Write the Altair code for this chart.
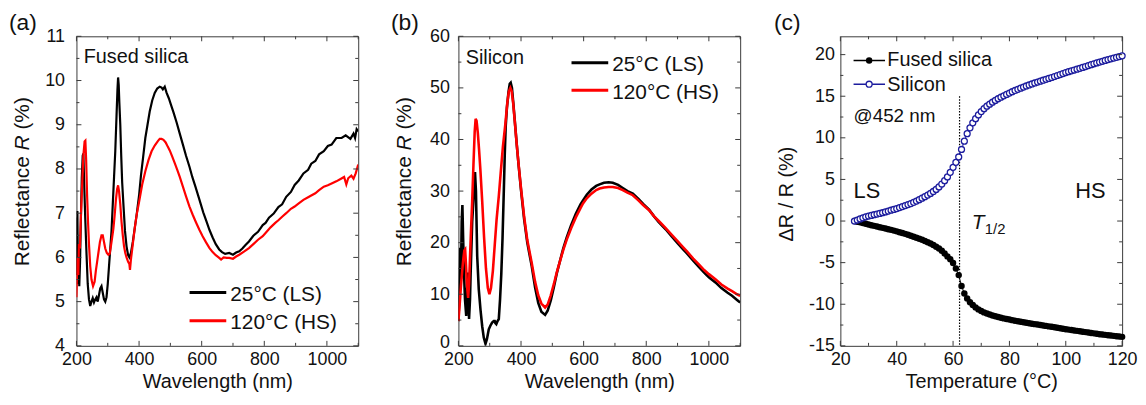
import altair as alt
import pandas as pd

FONT = "Liberation Sans"
INK = "#111111"
FRAME = "#3a3a3a"
RED = "#ff0000"
BLUE = "#1c1c9e"
W, H = 284, 312
WC = 284

# ---------------- (a) fused silica spectra: [wavelength nm, reflectance %] ----------------
fused_25C = [
    [200, 6.9], [201.5, 5.6], [203, 7.05], [205, 5.4], [207, 6.3], [209, 5.35], [211.5, 5.9], [214, 6.8],
    [217, 7.8], [220, 8.3], [222, 8.35], [225, 7.6], [228, 6.9], [232, 6.1], [236, 5.4], [240, 5.05],
    [244, 4.9], [248, 5.0], [252, 5.08], [256, 4.98], [260, 5.05], [264, 5.1], [268, 5.0], [272, 5.15],
    [276, 5.3], [280, 5.35], [284, 5.2], [288, 5.05], [292, 5.0], [296, 5.1], [300, 5.4], [304, 5.8],
    [308, 6.2], [312, 6.6], [316, 7.2], [320, 7.8], [324, 8.4], [328, 9.2], [331, 9.8], [333, 10.07],
    [335, 9.9], [337, 9.5], [340, 9.0], [343, 8.3], [346, 7.7], [350, 7.2], [355, 6.6], [360, 6.25],
    [365, 6.05], [369, 6.0], [374, 6.1], [380, 6.35], [386, 6.65], [392, 6.95], [400, 7.4], [406, 7.85],
    [413, 8.27], [420, 8.7], [427, 9.0], [434, 9.3], [442, 9.55], [450, 9.72], [458, 9.82], [466, 9.86],
    [472, 9.84], [476, 9.8], [482, 9.86], [488, 9.72], [495, 9.6], [502, 9.45], [510, 9.28], [520, 9.05],
    [530, 8.8], [540, 8.55], [550, 8.3], [561, 8.05], [570, 7.82], [580, 7.6], [593, 7.3], [605, 7.02],
    [615, 6.82], [625, 6.62], [635, 6.45], [645, 6.3], [656, 6.18], [665, 6.12], [675, 6.08], [688, 6.1],
    [700, 6.06], [710, 6.11], [720, 6.14], [730, 6.2], [740, 6.28], [751, 6.36], [765, 6.49], [780, 6.58],
    [795, 6.73], [804, 6.78], [815, 6.9], [830, 6.99], [845, 7.14], [857, 7.2], [870, 7.37], [885, 7.48],
    [897, 7.64], [910, 7.74], [925, 7.9], [940, 7.98], [950, 8.12], [963, 8.18], [975, 8.33], [990, 8.4],
    [1003, 8.52], [1015, 8.55], [1030, 8.7], [1047, 8.7], [1060, 8.76], [1075, 8.68], [1085, 8.8],
    [1090, 8.7], [1095, 8.9], [1100, 8.85],
]
fused_120C = [
    [200, 5.1], [203, 6.0], [206, 5.6], [208, 6.3], [211, 6.2], [214, 6.9], [218, 7.6], [222, 8.3],
    [226, 8.62], [228.5, 8.64], [231, 8.2], [234, 7.4], [237, 6.8], [240, 6.3], [244, 5.8], [248, 5.5],
    [253, 5.35], [258, 5.45], [262, 5.7], [266, 5.9], [270, 6.1], [275, 6.35], [280, 6.5], [284, 6.5],
    [288, 6.35], [292, 6.2], [297, 6.1], [302, 6.06], [306, 6.08], [310, 6.25], [314, 6.45], [318, 6.65],
    [322, 6.95], [326, 7.3], [330, 7.55], [333, 7.63], [336, 7.5], [340, 7.2], [344, 6.8], [348, 6.5],
    [352, 6.25], [356, 6.1], [360, 6.0], [365, 5.9], [369, 5.85], [371, 5.72], [374, 5.95], [380, 6.3],
    [386, 6.65], [392, 6.95], [400, 7.25], [410, 7.65], [420, 7.95], [430, 8.2], [440, 8.4], [450, 8.53],
    [460, 8.63], [466, 8.68], [472, 8.68], [478, 8.66], [485, 8.6], [492, 8.5], [498, 8.42], [506, 8.28],
    [514, 8.13], [522, 7.98], [530, 7.82], [540, 7.6], [550, 7.38], [561, 7.15], [571, 6.97], [582, 6.79],
    [593, 6.62], [603, 6.48], [614, 6.34], [625, 6.21], [635, 6.12], [645, 6.05], [656, 5.99], [662, 5.95],
    [670, 6.0], [680, 5.99], [688, 5.99], [700, 5.97], [710, 6.02], [720, 6.06], [735, 6.13], [751, 6.21],
    [765, 6.3], [780, 6.4], [795, 6.48], [804, 6.55], [820, 6.68], [835, 6.78], [845, 6.84], [857, 6.92],
    [870, 7.0], [885, 7.1], [897, 7.15], [910, 7.22], [925, 7.3], [940, 7.36], [950, 7.4], [963, 7.45],
    [975, 7.52], [990, 7.6], [1003, 7.63], [1015, 7.67], [1030, 7.72], [1045, 7.78], [1055, 7.82],
    [1062, 7.65], [1068, 7.79], [1078, 7.85], [1085, 7.78], [1092, 7.9], [1100, 8.1],
]

# ---------------- (b) silicon spectra ----------------
silicon_25C = [
    [200, 4.8], [203, 10], [206, 19], [208, 13], [210.5, 24], [212.7, 27.3], [215, 21], [218, 14],
    [221, 9], [225, 5.8], [228, 11], [230.7, 14.2], [234, 5.2], [237, 9], [239, 14], [244, 24],
    [249.6, 30], [253, 33.7], [256, 30], [260, 17.4], [265, 11], [270.7, 6.9], [276, 3.8], [281, 1.6],
    [286.5, 0.4], [291, 1.3], [297, 3.2], [302, 3.9], [307.7, 4.5], [313, 4.8], [316, 4.8], [318, 4.4],
    [321, 4.2], [325, 4.8], [329, 5.2], [333, 9], [337, 14], [341, 21], [345, 30], [348, 37],
    [351, 42.5], [355, 46.2], [360, 49.2], [364, 50.8], [367, 51], [371, 50], [375, 47.3], [380, 43.7],
    [386, 39.3], [392, 35.2], [400, 30.2], [410, 24.5], [420, 20], [434, 15.5], [445, 11.3], [455, 8.3],
    [465, 6.6], [477, 6.0], [485, 6.8], [495, 8.8], [505, 11.4], [514, 14.0], [525, 16.6], [535, 18.9],
    [546, 21.0], [560, 23.4], [575, 25.6], [590, 27.4], [598, 28.2], [610, 29.3], [625, 30.3], [640, 31.0],
    [651, 31.3], [665, 31.6], [680, 31.7], [693, 31.6], [710, 31.2], [725, 30.6], [740, 30.0], [757, 29.5],
    [775, 28.5], [790, 27.5], [809, 26.4], [825, 25.1], [840, 24.0], [862, 22.6], [880, 21.3], [900, 19.9],
    [915, 18.9], [930, 17.9], [950, 16.5], [968, 15.3], [985, 14.2], [1000, 13.3], [1021, 12.3],
    [1040, 11.2], [1060, 10.3], [1074, 9.7], [1090, 8.9], [1100, 8.4],
]
silicon_120C = [
    [200, 4.8], [204, 8], [208, 11.5], [212, 14.5], [216, 17], [219, 18.5], [221.5, 18.7], [224, 16],
    [227, 12], [231, 9.3], [234, 12], [237, 17], [240, 22], [244, 28], [248, 35], [252, 41.5],
    [255, 44], [258, 43.6], [262, 41.3], [266, 38], [270, 34.3], [276, 28], [282, 21], [288, 15],
    [294, 11.2], [299, 10.0], [304, 11.2], [310, 14.5], [316, 19.5], [322, 24.5], [329, 29], [335, 33.5],
    [342, 38.5], [350, 43], [356, 47], [361, 49.3], [366, 50], [370, 49.4], [375, 47], [380, 43.5],
    [386, 39.2], [392, 35.3], [400, 30.5], [410, 25], [420, 20.5], [434, 16.1], [445, 12.4], [455, 9.8],
    [465, 8.2], [477, 7.44], [485, 8.0], [495, 9.8], [505, 12], [514, 14.2], [525, 16.5], [535, 18.6],
    [546, 20.6], [560, 22.8], [575, 24.9], [590, 26.7], [598, 27.6], [610, 28.6], [625, 29.5], [640, 30.2],
    [651, 30.5], [665, 30.7], [680, 30.8], [693, 30.8], [710, 30.6], [725, 30.2], [740, 29.7], [757, 29.2],
    [775, 28.2], [790, 27.3], [809, 26.3], [825, 25.1], [840, 24.2], [862, 22.8], [880, 21.6], [900, 20.3],
    [915, 19.3], [930, 18.3], [950, 16.9], [968, 15.8], [985, 14.7], [1000, 13.9], [1021, 12.9],
    [1040, 11.9], [1060, 11.1], [1074, 10.6], [1090, 10.0], [1100, 9.7],
]

# ---------------- (c) relative change at 452 nm vs temperature ----------------
c_temp = [25, 26, 27, 28, 29, 30, 31, 32, 33, 34, 35, 36, 37, 38, 39, 40, 41, 42, 43, 44,
          45, 46, 47, 48, 49, 50, 51, 52, 53, 54, 55, 56, 57, 58, 59, 60, 61, 62, 63, 64,
          65, 66, 67, 68, 69, 70, 71, 72, 73, 74, 75, 76, 77, 78, 79, 80, 81, 82, 83, 84,
          85, 86, 87, 88, 89, 90, 91, 92, 93, 94, 95, 96, 97, 98, 99, 100, 101, 102, 103, 104,
          105, 106, 107, 108, 109, 110, 111, 112, 113, 114, 115, 116, 117, 118, 119, 120]
c_fused = [0.00, -0.08, -0.16, -0.25, -0.33, -0.42, -0.50, -0.58, -0.66, -0.74,
           -0.82, -0.90, -0.98, -1.06, -1.15, -1.24, -1.34, -1.44, -1.54, -1.65,
           -1.76, -1.88, -2.00, -2.12, -2.25, -2.39, -2.54, -2.70, -2.88, -3.08,
           -3.30, -3.58, -3.90, -4.25, -4.60, -5.05, -5.70, -6.50, -7.80, -8.70,
           -9.30, -9.75, -10.10, -10.38, -10.62, -10.82, -10.98, -11.12, -11.24, -11.35,
           -11.45, -11.54, -11.62, -11.70, -11.77, -11.84, -11.91, -11.98, -12.04, -12.10,
           -12.16, -12.22, -12.28, -12.34, -12.39, -12.44, -12.50, -12.55, -12.60, -12.66,
           -12.71, -12.77, -12.82, -12.88, -12.94, -13.00, -13.05, -13.10, -13.15, -13.20,
           -13.25, -13.30, -13.35, -13.40, -13.45, -13.50, -13.55, -13.60, -13.64, -13.68,
           -13.72, -13.76, -13.80, -13.84, -13.88, -13.92]
c_silicon = [0.00, 0.12, 0.25, 0.38, 0.50, 0.60, 0.68, 0.76, 0.84, 0.92,
             1.00, 1.10, 1.20, 1.30, 1.40, 1.50, 1.62, 1.74, 1.86, 1.98,
             2.10, 2.25, 2.40, 2.57, 2.75, 2.93, 3.12, 3.32, 3.55, 3.80,
             4.10, 4.45, 4.85, 5.30, 5.85, 6.45, 7.05, 7.70, 8.60, 9.60,
             10.50, 11.20, 11.80, 12.30, 12.75, 13.15, 13.50, 13.80, 14.05, 14.28,
             14.50, 14.70, 14.88, 15.05, 15.22, 15.38, 15.54, 15.69, 15.83, 15.97,
             16.10, 16.23, 16.35, 16.47, 16.59, 16.70, 16.81, 16.92, 17.03, 17.14,
             17.25, 17.37, 17.49, 17.61, 17.73, 17.85, 17.95, 18.05, 18.15, 18.25,
             18.35, 18.46, 18.57, 18.68, 18.79, 18.90, 19.00, 19.10, 19.20, 19.30,
             19.40, 19.49, 19.58, 19.67, 19.76, 19.85]
t_half = [62.3]
t_half_span = [15, -15]

# tick values
a_xmaj = [200, 400, 600, 800, 1000]
a_xmin = [300, 500, 700, 900, 1100]
a_ymaj = [4, 5, 6, 7, 8, 9, 10, 11]
a_ymin = [4.5, 5.5, 6.5, 7.5, 8.5, 9.5, 10.5]
b_ymaj = [0, 10, 20, 30, 40, 50, 60]
b_ymin = [5, 15, 25, 35, 45, 55]
c_xmaj = [20, 40, 60, 80, 100, 120]
c_xmin = [30, 50, 70, 90, 110]
c_ymaj = [-15, -10, -5, 0, 5, 10, 15, 20]
c_ymin = [-12.5, -7.5, -2.5, 2.5, 7.5, 12.5, 17.5]

XTITLE_Y = 42  # baseline of the x-axis titles below the plot area

AX = dict(ticks=False, domain=False, grid=False, labelFont=FONT, labelFontSize=18,
          labelColor=INK, labelFlush=False, labelOverlap=False, titleFont=FONT,
          titleFontSize=20, titleFontWeight="normal", titleColor=INK,
          labelExpr="'' + datum.value")


def spec_df(pairs):
    return pd.DataFrame(pairs, columns=["wl", "R"])


def text_layer(s, x, y, size, align="left", style="normal", angle=0, color=INK):
    return alt.Chart(pd.DataFrame({"t": [s]})).mark_text(
        align=align, baseline="alphabetic", fontSize=size, font=FONT, fontStyle=style,
        angle=angle, color=color
    ).encode(text="t:N", x=alt.value(x), y=alt.value(y))


def hline(x1, x2, y, color, width):
    return alt.Chart(pd.DataFrame({"k": [0]})).mark_rule(color=color, strokeWidth=width).encode(
        x=alt.value(x1), x2=alt.value(x2), y=alt.value(y))


def frame_ticks(xs, ys, xax, yax, xmaj, xmin, ymaj, ymin, w, h):
    # inward ticks on all four sides, sharing the same scales and axis definitions
    out = []
    for vals, L in ((xmaj, 5), (xmin, 3)):
        d = pd.DataFrame({"v": vals})
        out.append(alt.Chart(d).mark_rule(color=FRAME, strokeWidth=1).encode(
            x=alt.X("v:Q", scale=xs, axis=xax), y=alt.value(h), y2=alt.value(h - L)))
        out.append(alt.Chart(d).mark_rule(color=FRAME, strokeWidth=1).encode(
            x=alt.X("v:Q", scale=xs, axis=xax), y=alt.value(0), y2=alt.value(L)))
    for vals, L in ((ymaj, 5), (ymin, 3)):
        d = pd.DataFrame({"v": vals})
        out.append(alt.Chart(d).mark_rule(color=FRAME, strokeWidth=1).encode(
            y=alt.Y("v:Q", scale=ys, axis=yax), x=alt.value(0), x2=alt.value(L)))
        out.append(alt.Chart(d).mark_rule(color=FRAME, strokeWidth=1).encode(
            y=alt.Y("v:Q", scale=ys, axis=yax), x=alt.value(w), x2=alt.value(w - L)))
    return out


def reflectance_title():
    return [
        text_layer("Reflectance", -48, 231.7, 21, angle=270),
        text_layer("R", -48, 115, 21, style="italic", angle=270),
        text_layer("(%)", -48, 94, 21, angle=270),
    ]


def spectra_panel(ls, hs, ydom, ymaj, ymin, ylabpad, lw, label, label_text, legend_y, letter,
                  zero_lift=0):
    xs = alt.Scale(domain=[200, 1100], nice=False, zero=False)
    ys = alt.Scale(domain=ydom, nice=False, zero=False)
    xax = alt.Axis(values=a_xmaj, title="Wavelength (nm)", labelPadding=5, titleY=XTITLE_Y,
                   titleBaseline="alphabetic", **AX)
    yax = alt.Axis(values=ymaj, title=None, labelPadding=ylabpad,
                   labelOffset={"condition": {"test": "datum.value == 0", "value": -zero_lift},
                                "value": 0},
                   **AX)
    l1 = alt.Chart(spec_df(ls)).mark_line(color="black", strokeWidth=lw, clip=True).encode(
        x=alt.X("wl:Q", scale=xs, axis=xax), y=alt.Y("R:Q", scale=ys, axis=yax))
    l2 = alt.Chart(spec_df(hs)).mark_line(color=RED, strokeWidth=lw, clip=True).encode(
        x=alt.X("wl:Q", scale=xs, axis=xax), y=alt.Y("R:Q", scale=ys, axis=yax))
    ly1, ly2 = legend_y
    layers = [l1, l2] + frame_ticks(xs, ys, xax, yax, a_xmaj, a_xmin, ymaj, ymin, W, H) + [
        text_layer(label, 7.3, label_text, 20),
        hline(114, 151, ly1, "black", 3),
        hline(114, 151, ly2, RED, 3),
        text_layer("25°C (LS)", 155, ly1 + 8.4, 21),
        text_layer("120°C (HS)", 155, ly2 + 8.4, 21),
        text_layer(letter, -68, -6.5, 23),
    ] + reflectance_title()
    return alt.layer(*layers).properties(width=W, height=H)


panel_a = spectra_panel(fused_25C, fused_120C, [4, 11], a_ymaj, a_ymin, 12, 2.2,
                        "Fused silica", 26.7, (258.3, 286.7), "(a)")
panel_b = spectra_panel(silicon_25C, silicon_120C, [0, 60], b_ymaj, b_ymin, 9, 2.6,
                        "Silicon", 28.3, (26.7, 54.3), "(b)", zero_lift=3)

# ---------------- panel (c) ----------------
xc = alt.Scale(domain=[20, 120], nice=False, zero=False)
yc = alt.Scale(domain=[-15, 22.2], nice=False, zero=False)
dc = pd.DataFrame({"T": c_temp, "fused": c_fused, "silicon": c_silicon})
xcax = alt.Axis(values=c_xmaj, title="Temperature (°C)", labelPadding=5, titleY=XTITLE_Y,
                titleBaseline="alphabetic", **AX)
ycax = alt.Axis(values=c_ymaj, title=None, labelPadding=6, **AX)

X_C = dict(scale=xc, axis=xcax)
Y_C = dict(scale=yc, axis=ycax)

fused_line = alt.Chart(dc).mark_line(color="black", strokeWidth=1).encode(
    x=alt.X("T:Q", **X_C), y=alt.Y("fused:Q", **Y_C))
fused_pts = alt.Chart(dc).mark_circle(color="black", size=42, opacity=1).encode(
    x=alt.X("T:Q", **X_C), y=alt.Y("fused:Q", **Y_C))
si_line = alt.Chart(dc).mark_line(color=BLUE, strokeWidth=1).encode(
    x=alt.X("T:Q", **X_C), y=alt.Y("silicon:Q", **Y_C))
si_pts = alt.Chart(dc).mark_point(shape="circle", size=36, stroke=BLUE, strokeWidth=1.3,
                                  fill="white", fillOpacity=1, opacity=1).encode(
    x=alt.X("T:Q", **X_C), y=alt.Y("silicon:Q", **Y_C))
thalf = alt.Chart(pd.DataFrame({"T": t_half, "y1": [t_half_span[0]], "y2": [t_half_span[1]]})).mark_rule(
    color="black", strokeWidth=1.2, strokeDash=[1.5, 1.5]).encode(
    x=alt.X("T:Q", **X_C), y=alt.Y("y1:Q", **Y_C), y2="y2:Q")

leg_fused_pt = alt.Chart(pd.DataFrame({"k": [0]})).mark_circle(color="black", size=42, opacity=1).encode(
    x=alt.value(29), y=alt.value(24.3))
leg_si_pt = alt.Chart(pd.DataFrame({"k": [0]})).mark_point(
    shape="circle", size=36, stroke=BLUE, strokeWidth=1.3, fill="white", fillOpacity=1, opacity=1).encode(
    x=alt.value(29), y=alt.value(48.3))

panel_c = alt.layer(
    thalf, fused_line, fused_pts, si_line, si_pts,
    *frame_ticks(xc, yc, xcax, ycax, c_xmaj, c_xmin, c_ymaj, c_ymin, WC, H),
    hline(13.3, 45, 24.3, "black", 1.5), leg_fused_pt,
    hline(13.3, 45, 48.3, BLUE, 1.5), leg_si_pt,
    text_layer("Fused silica", 47.3, 30, 20),
    text_layer("Silicon", 47.3, 55, 20),
    text_layer("@452 nm", 13.3, 86.7, 19),
    text_layer("LS", 13.3, 163.3, 22),
    text_layer("HS", 267.3, 163.3, 22, align="right"),
    text_layer("T", 132.3, 194, 21, style="italic"),
    text_layer("1/2", 145.5, 199.5, 15),
    text_layer("(c)", -67, -6.5, 23),
    text_layer("ΔR / R (%)", -48, 159, 20, align="center", angle=270),
).properties(width=WC, height=H)

chart = alt.hconcat(panel_a, panel_b, panel_c, spacing=101, bounds="flush").properties(
    padding={"left": 0, "top": 2, "right": 0, "bottom": 0}
).configure(font=FONT).configure_view(stroke=FRAME, strokeWidth=1)

chart.save("out.html", embed_options={"renderer": "svg", "actions": False})
